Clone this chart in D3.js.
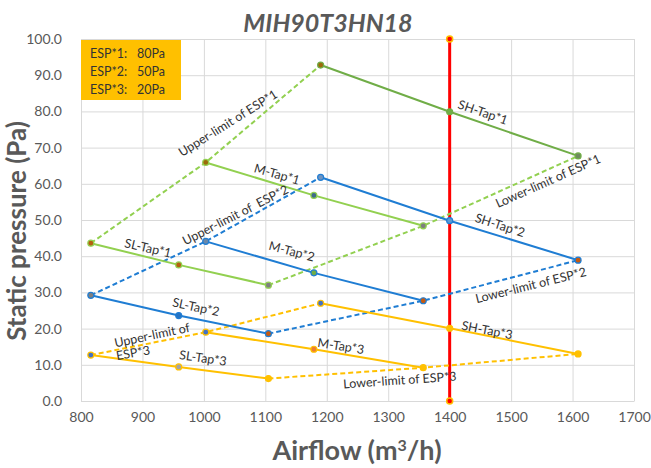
<!DOCTYPE html>
<html>
<head>
<meta charset="utf-8">
<script src="https://cdn.jsdelivr.net/npm/d3@7"></script>
<style>
  body { margin: 0; background: #fff; }
  svg { display: block; font-family: Lato, "Open Sans", sans-serif; }
</style>
</head>
<body>
<svg id="chart" width="651" height="468"></svg>
<script>
// ---- data ----
const xTicks = [800, 900, 1000, 1100, 1200, 1300, 1400, 1500, 1600, 1700];
const yTicks = [0, 10, 20, 30, 40, 50, 60, 70, 80, 90, 100];

const espNames = ["ESP*1", "ESP*2", "ESP*3"];
const espValues = ["80Pa", "50Pa", "20Pa"];

// airflow (m3/h) of the three points on each tap curve
const slAirflow = [816, 959, 1105];
const mAirflow = [1003, 1179, 1357];
const shAirflow = [1190, 1400, 1609];

// static pressure (Pa) per ESP setting, rows = ESP*1, ESP*2, ESP*3
const slPressure = [[43.6, 37.6, 32.0], [29.2, 23.6, 18.6], [12.7, 9.4, 6.2]];
const mPressure = [[65.9, 56.8, 48.4], [44.1, 35.4, 27.7], [19.0, 14.3, 9.2]];
const shPressure = [[92.8, 79.9, 67.7], [61.8, 49.8, 38.9], [27.0, 20.1, 13.0]];

// rated airflow reference line
const ratedAirflow = 1400;
const ratedRange = [0, 100];

// ---- styling ----
const tapColor = ["#92d050", "#1f7dd3", "#ffc000"];
const shColor = ["#70ad47", "#1f7dd3", "#ffc000"];
const markerFill = {
  sl: [["#b5600f", "#b5600f", "#7f7f7f"], ["#7f7f7f", "#2573c4", "#c55a11"], ["#4472c4", "#a5a5a5", "#ffc000"]],
  m:  [["#9c6a0a", "#3f6a8a", "#7f7f7f"], ["#6a88aa", "#70ad47", "#c55a11"], ["#4472c4", "#ed7d31", "#ffc000"]],
  sh: [["#9c6a0a", "#70ad47", "#6f8a5f"], ["#6f93c0", "#5b9bd5", "#c55a11"], ["#4472c4", "#ffc000", "#ffc000"]]
};

// annotation labels: text, anchor in data units, rotation (deg)
const labels = [
  ["Upper-limit of ESP*1", 1039, 76.8, -32],
  ["M-Tap*1", 1119, 62.7, 16],
  ["Upper-limit of  ESP*2", 1051, 51.4, -27],
  ["SL-Tap*1", 909, 42.3, 13],
  ["M-Tap*2", 1143, 41.4, 15],
  ["SL-Tap*2", 987, 26.0, 12],
  ["Upper-limit of", 915.6, 18.2, -12],
  ["ESP*3", 884.6, 13.3, -10],
  ["SL-Tap*3", 998.5, 11.9, 8],
  ["M-Tap*3", 1223, 15.2, 9],
  ["SH-Tap*1", 1454, 79.8, 19],
  ["Lower-limit of ESP*1", 1560, 60.8, -24],
  ["SH-Tap*2", 1482, 48.6, 18],
  ["Lower-limit of ESP*2", 1532, 32.0, -14],
  ["SH-Tap*3", 1461, 19.6, 11],
  ["Lower-limit of ESP*3", 1319, 5.8, -4]
];

// ---- layout ----
const svg = d3.select("#chart");
const plot = { left: 81, right: 634, top: 39, bottom: 401 };

const x = d3.scaleLinear().domain([800, 1700]).range([plot.left, plot.right]);
const y = d3.scaleLinear().domain([0, 100]).range([plot.bottom, plot.top]);

const gridColor = "#d9d9d9";
const textColor = "#595959";

// gridlines
svg.append("g").selectAll("line").data(yTicks).join("line")
  .attr("x1", plot.left).attr("x2", plot.right)
  .attr("y1", d => y(d) + 0.5).attr("y2", d => y(d) + 0.5)
  .attr("stroke", gridColor).attr("stroke-width", 1);
svg.append("g").selectAll("line").data(xTicks).join("line")
  .attr("x1", d => x(d) + 0.5).attr("x2", d => x(d) + 0.5)
  .attr("y1", plot.top).attr("y2", plot.bottom)
  .attr("stroke", gridColor).attr("stroke-width", 1);

// axes
const xAxis = svg.append("g")
  .attr("transform", `translate(0,${plot.bottom})`)
  .call(d3.axisBottom(x).tickValues(xTicks).tickFormat(d3.format("d")).tickSize(0).tickPadding(11));
xAxis.select(".domain").attr("stroke", gridColor);
xAxis.selectAll("text").attr("fill", textColor).style("font-size", "14px").style("font-family", "Lato, sans-serif");

const yAxis = svg.append("g")
  .attr("transform", `translate(${plot.left},0)`)
  .call(d3.axisLeft(y).tickValues(yTicks).tickFormat(d3.format(".1f")).tickSize(0).tickPadding(19));
yAxis.select(".domain").remove();
yAxis.selectAll("text").attr("fill", textColor).style("font-size", "14px").style("font-family", "Lato, sans-serif");

// titles
svg.append("text")
  .attr("x", 328).attr("y", 32)
  .attr("text-anchor", "middle")
  .attr("fill", textColor)
  .style("font-size", "25px").style("font-weight", "bold").style("font-style", "italic")
  .text("MIH90T3HN18");

const xTitle = svg.append("text")
  .attr("x", 357).attr("y", 460)
  .attr("text-anchor", "middle")
  .attr("fill", textColor)
  .style("font-size", "27px").style("font-weight", "bold");
xTitle.append("tspan").text("Airflow (m");
xTitle.append("tspan").attr("dy", -9).style("font-size", "16px").text("3");
xTitle.append("tspan").attr("dy", 9).text("/h)");

svg.append("text")
  .attr("transform", `translate(26,${(plot.top + plot.bottom) / 2 + 11}) rotate(-90)`)
  .attr("text-anchor", "middle")
  .attr("fill", textColor)
  .style("font-size", "26px").style("font-weight", "bold")
  .text("Static pressure (Pa)");

// rated airflow line
svg.append("line")
  .attr("x1", x(ratedAirflow)).attr("x2", x(ratedAirflow))
  .attr("y1", y(ratedRange[0])).attr("y2", y(ratedRange[1]))
  .attr("stroke", "#ff0000").attr("stroke-width", 3);
svg.append("g").selectAll("circle").data(ratedRange).join("circle")
  .attr("cx", x(ratedAirflow)).attr("cy", d => y(d)).attr("r", 3)
  .attr("fill", "#ff0000").attr("stroke", "#ffc000").attr("stroke-width", 1.5);

const line = d3.line().x(d => x(d[0])).y(d => y(d[1]));
const zip = (xs, ys) => xs.map((v, i) => [v, ys[i]]);

const seriesG = svg.append("g");

// limit lines (dashed) through first / last points of each tap curve
espNames.forEach((_, k) => {
  const upper = [[slAirflow[0], slPressure[k][0]], [mAirflow[0], mPressure[k][0]], [shAirflow[0], shPressure[k][0]]];
  const lower = [[slAirflow[2], slPressure[k][2]], [mAirflow[2], mPressure[k][2]], [shAirflow[2], shPressure[k][2]]];
  [upper, lower].forEach(pts => {
    seriesG.append("path")
      .attr("d", line(pts))
      .attr("fill", "none")
      .attr("stroke", tapColor[k])
      .attr("stroke-width", 2)
      .attr("stroke-dasharray", "5,3");
  });
});

// tap curves
espNames.forEach((_, k) => {
  const curves = [
    { xs: slAirflow, ys: slPressure[k], color: tapColor[k], fills: markerFill.sl[k] },
    { xs: mAirflow, ys: mPressure[k], color: tapColor[k], fills: markerFill.m[k] },
    { xs: shAirflow, ys: shPressure[k], color: shColor[k], fills: markerFill.sh[k] }
  ];
  curves.forEach(c => {
    const pts = zip(c.xs, c.ys);
    seriesG.append("path")
      .attr("d", line(pts))
      .attr("fill", "none")
      .attr("stroke", c.color)
      .attr("stroke-width", 2);
    seriesG.append("g").selectAll("circle").data(pts).join("circle")
      .attr("cx", d => x(d[0])).attr("cy", d => y(d[1]))
      .attr("r", 3)
      .attr("fill", (d, i) => c.fills[i])
      .attr("stroke", c.color)
      .attr("stroke-width", 1.2);
  });
});

// curve labels
svg.append("g").selectAll("text").data(labels).join("text")
  .attr("transform", d => `translate(${x(d[1])},${y(d[2])}) rotate(${d[3]})`)
  .attr("text-anchor", "middle")
  .attr("dominant-baseline", "central")
  .attr("fill", "#333333")
  .style("font-size", "12.5px")
  .style("white-space", "pre")
  .text(d => d[0]);

// ESP legend box
const legend = svg.append("g").attr("transform", `translate(${x(800)},${y(100) + 1})`);
legend.append("rect").attr("width", 100).attr("height", 60).attr("fill", "#ffc000");
espNames.forEach((name, i) => {
  const t = legend.append("text")
    .attr("y", 18 + i * 18)
    .attr("fill", "#333333")
    .style("font-size", "12.5px");
  t.append("tspan").attr("x", 9).text(name + ":");
  t.append("tspan").attr("x", 56).text(espValues[i]);
});
</script>
</body>
</html>
